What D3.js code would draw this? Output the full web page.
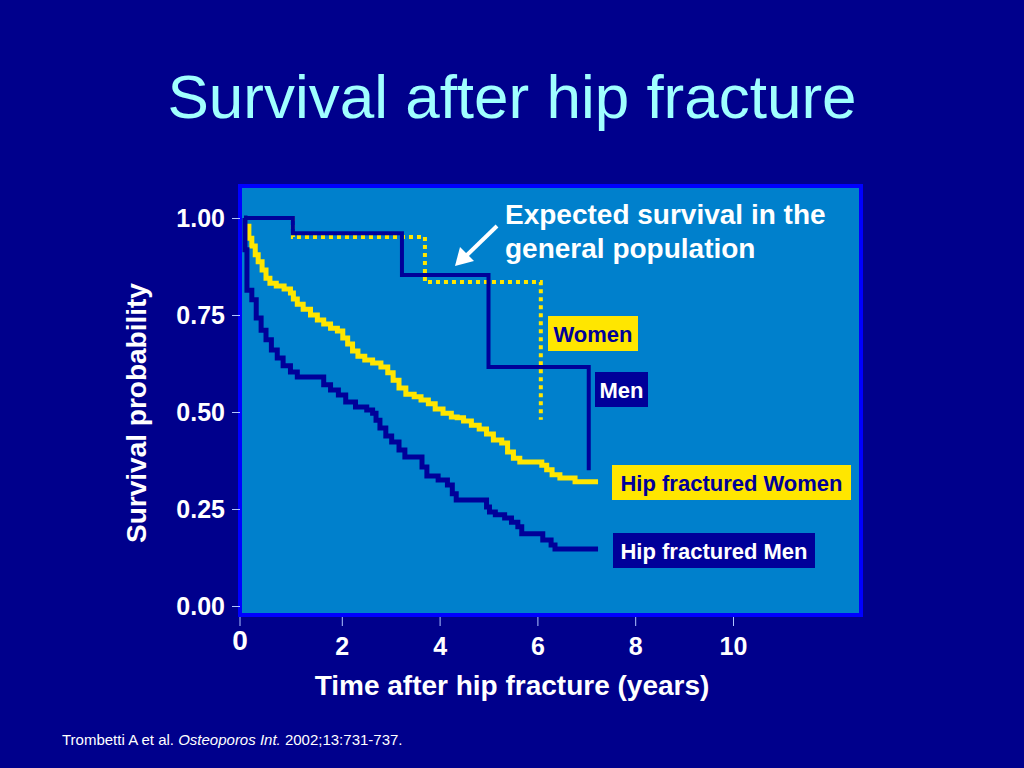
<!DOCTYPE html>
<html>
<head>
<meta charset="utf-8"/>
<title>Survival after hip fracture</title>
<script src="https://d3js.org/d3.v7.min.js"></script>
<style>
  body { margin: 0; background: #00008c; }
  svg text { font-family: "Liberation Sans", Arial, sans-serif; }
</style>
</head>
<body>
<div id="chart"></div>
<script>
// survival values: [years, survival probability]
var expectedMen = [[0, 1.0], [1.0, 0.961], [3.23, 0.853], [5.0, 0.616], [7.05, 0.35]];
var expectedWomen = [[0, 1.0], [1.0, 0.951], [3.70, 0.835], [6.07, 0.48]];

var hipWomen = [
  [0.04, 0.979], [0.10, 0.948], [0.16, 0.928], [0.23, 0.905], [0.29, 0.887],
  [0.37, 0.866], [0.45, 0.845], [0.53, 0.832], [0.66, 0.825], [0.82, 0.817],
  [0.95, 0.807], [1.01, 0.791], [1.09, 0.778], [1.21, 0.765], [1.36, 0.750],
  [1.50, 0.737], [1.63, 0.727], [1.77, 0.716], [1.91, 0.709], [2.02, 0.691],
  [2.12, 0.675], [2.22, 0.657], [2.33, 0.644], [2.47, 0.634], [2.63, 0.626],
  [2.80, 0.616], [2.94, 0.601], [3.05, 0.582], [3.17, 0.562], [3.31, 0.546],
  [3.48, 0.539], [3.62, 0.531], [3.77, 0.521], [3.91, 0.508], [4.07, 0.497],
  [4.24, 0.487], [4.36, 0.485], [4.49, 0.477], [4.65, 0.466], [4.81, 0.456],
  [4.96, 0.443], [5.10, 0.428], [5.27, 0.420], [5.39, 0.397], [5.51, 0.381],
  [5.64, 0.371], [6.09, 0.363], [6.19, 0.351], [6.30, 0.338], [6.46, 0.330],
  [6.77, 0.320], [7.24, 0.320]
];

var hipMen = [
  [0.00, 1.000], [0.02, 0.918], [0.06, 0.814], [0.16, 0.789], [0.25, 0.742],
  [0.35, 0.711], [0.45, 0.686], [0.56, 0.660], [0.68, 0.639], [0.80, 0.619],
  [0.95, 0.603], [1.09, 0.590], [1.63, 0.570], [1.77, 0.557], [1.93, 0.544],
  [2.08, 0.526], [2.28, 0.513], [2.51, 0.505], [2.63, 0.497], [2.70, 0.479],
  [2.78, 0.459], [2.90, 0.438], [3.02, 0.423], [3.17, 0.402], [3.29, 0.384],
  [3.64, 0.358], [3.74, 0.335], [3.97, 0.325], [4.16, 0.312], [4.26, 0.289],
  [4.34, 0.273], [4.96, 0.255], [5.02, 0.242], [5.14, 0.235], [5.33, 0.227],
  [5.47, 0.216], [5.60, 0.204], [5.68, 0.186], [6.11, 0.170], [6.28, 0.157],
  [6.36, 0.147], [7.24, 0.147]
];

var yTicks = [0, 0.25, 0.5, 0.75, 1];
var xTicks = [2, 4, 6, 8, 10];

var width = 1024, height = 768;
var navy = '#000099', yellow = '#ffe600';

var svg = d3.select('#chart').append('svg')
  .attr('width', width)
  .attr('height', height);

svg.append('rect').attr('width', width).attr('height', height).attr('fill', '#00008c');

var x = d3.scaleLinear().domain([0, 10]).range([244, 733]);
var y = d3.scaleLinear().domain([0, 1]).range([606, 218]);

// plot frame
svg.append('rect')
  .attr('x', 240).attr('y', 186)
  .attr('width', 621).attr('height', 429)
  .attr('fill', '#0080cc')
  .attr('stroke', '#0000ff')
  .attr('stroke-width', 4);

// title
svg.append('text')
  .attr('x', 512).attr('y', 118)
  .attr('text-anchor', 'middle')
  .attr('fill', '#a0ffff')
  .attr('font-size', 62)
  .text('Survival after hip fracture');

// axes
var yAxis = svg.append('g')
  .attr('transform', 'translate(240,0)')
  .call(d3.axisLeft(y).tickValues(yTicks).tickFormat(d3.format('.2f')).tickSize(8).tickPadding(7));

var xAxis = svg.append('g')
  .attr('transform', 'translate(0,617)')
  .call(d3.axisBottom(x).tickValues(xTicks).tickSize(9).tickPadding(11));

[yAxis, xAxis].forEach(function(ax){
  ax.select('.domain').remove();
  ax.selectAll('line').attr('stroke', '#b0c4ff').attr('stroke-width', 1);
  ax.selectAll('text')
    .attr('fill', 'white')
    .attr('font-weight', 'bold')
    .attr('font-size', 25)
    .style('font-family', '"Liberation Sans", Arial, sans-serif');
});

// the "0" at the frame corner
svg.append('line')
  .attr('x1', 240).attr('x2', 240).attr('y1', 617).attr('y2', 626)
  .attr('stroke', '#b0c4ff');
svg.append('text')
  .attr('x', 240).attr('y', 650)
  .attr('text-anchor', 'middle')
  .attr('fill', 'white').attr('font-weight', 'bold').attr('font-size', 28)
  .text('0');

// axis titles
svg.append('text')
  .attr('transform', 'translate(146,413) rotate(-90)')
  .attr('text-anchor', 'middle')
  .attr('fill', 'white').attr('font-weight', 'bold').attr('font-size', 28)
  .text('Survival probability');

svg.append('text')
  .attr('x', 512).attr('y', 695)
  .attr('text-anchor', 'middle')
  .attr('fill', 'white').attr('font-weight', 'bold').attr('font-size', 28)
  .text('Time after hip fracture (years)');

// curves
var line = d3.line()
  .x(function(d){ return x(d[0]); })
  .y(function(d){ return y(d[1]); })
  .curve(d3.curveStepAfter);

svg.append('path')
  .attr('d', line(expectedWomen))
  .attr('fill', 'none')
  .attr('stroke', yellow)
  .attr('stroke-width', 4)
  .attr('stroke-dasharray', '4,4');

svg.append('path')
  .attr('d', line(expectedMen))
  .attr('fill', 'none')
  .attr('stroke', navy)
  .attr('stroke-width', 4);

svg.append('path')
  .attr('d', line(hipWomen))
  .attr('fill', 'none')
  .attr('stroke', yellow)
  .attr('stroke-width', 5);

svg.append('path')
  .attr('d', line(hipMen))
  .attr('fill', 'none')
  .attr('stroke', navy)
  .attr('stroke-width', 5);

// annotation
svg.append('text')
  .attr('x', 505).attr('y', 224)
  .attr('fill', 'white').attr('font-weight', 'bold').attr('font-size', 28)
  .text('Expected survival in the');
svg.append('text')
  .attr('x', 505).attr('y', 258)
  .attr('fill', 'white').attr('font-weight', 'bold').attr('font-size', 28)
  .text('general population');

svg.append('line')
  .attr('x1', 497).attr('y1', 226).attr('x2', 466).attr('y2', 256)
  .attr('stroke', 'white').attr('stroke-width', 4);
svg.append('path')
  .attr('d', 'M455,266 L460,247 L474,261 Z')
  .attr('fill', 'white');

// labels in boxes
var labels = [
  { text: 'Women', x: 548, y: 316, w: 90, fill: yellow, color: navy },
  { text: 'Men', x: 595, y: 372, w: 53, fill: navy, color: 'white' },
  { text: 'Hip fractured Women', x: 612, y: 465, w: 239, fill: yellow, color: navy },
  { text: 'Hip fractured Men', x: 613, y: 533, w: 202, fill: navy, color: 'white' }
];

labels.forEach(function(l){
  svg.append('rect')
    .attr('x', l.x).attr('y', l.y)
    .attr('width', l.w).attr('height', 35)
    .attr('fill', l.fill);
  svg.append('text')
    .attr('x', l.x + l.w / 2).attr('y', l.y + 26)
    .attr('text-anchor', 'middle')
    .attr('fill', l.color).attr('font-weight', 'bold').attr('font-size', 22)
    .text(l.text);
});

// source line
var src = svg.append('text')
  .attr('x', 62).attr('y', 745)
  .attr('fill', 'white').attr('font-size', 15);
src.append('tspan').text('Trombetti A et al. ');
src.append('tspan').attr('font-style', 'italic').text('Osteoporos Int.');
src.append('tspan').text(' 2002;13:731-737.');
</script>
</body>
</html>
